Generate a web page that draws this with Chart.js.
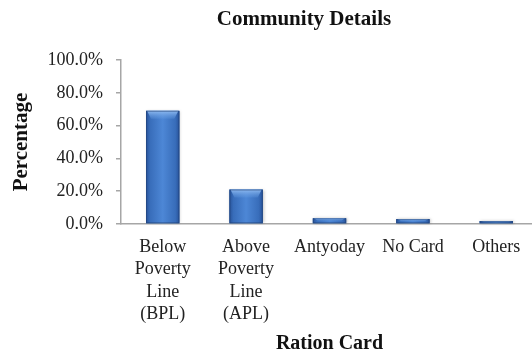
<!DOCTYPE html>
<html lang="en">
<head>
    <meta charset="UTF-8">
    <title>Community Details</title>
    <script src="https://cdn.jsdelivr.net/npm/chart.js"></script>
    <style>
        html, body {
            margin: 0;
            padding: 0;
            overflow: hidden;
            background: #fff;
        }
        .wrap {
            position: relative;
            width: 532px;
            height: 358px;
        }
        .chart-title {
            position: absolute;
            top: 6px;
            left: 76px;
            width: 456px;
            text-align: center;
            font: bold 21px "Liberation Serif", "Times New Roman", serif;
            color: #111;
        }
        canvas {
            position: absolute;
            left: 0;
            top: 0;
        }
    </style>
</head>
<body>
<div class="wrap">
    <canvas id="rationChart" width="538" height="358"></canvas>
    <div class="chart-title">Community Details</div>
</div>

<script>
    // Ration card type vs share of households (%)
    const cardTypes = [
        ['Below', 'Poverty', 'Line', '(BPL)'],
        ['Above', 'Poverty', 'Line', '(APL)'],
        'Antyoday',
        'No Card',
        'Others'
    ];
    const shares = [69.0, 21.0, 3.5, 3.0, 1.8];
    const yTicks = [0, 20, 40, 60, 80, 100];

    const serif = '"Liberation Serif", "Times New Roman", serif';
    const axisGray = '#a6a6a6';

    // paints the bevelled, cylinder-like shading over each bar
    const barShade = {
        id: 'barShade',
        afterDatasetsDraw(chart) {
            const ctx = chart.ctx;
            chart.getDatasetMeta(0).data.forEach(bar => {
                const {x, y, base, width} = bar.getProps(['x', 'y', 'base', 'width'], true);
                const l = x - width / 2, r = x + width / 2, h = base - y;
                if (h <= 0) return;

                ctx.save();
                // soft shadow behind the bar
                ctx.shadowColor = 'rgba(0,0,0,0.25)';
                ctx.shadowBlur = 3;
                ctx.shadowOffsetX = 1;
                const g = ctx.createLinearGradient(l, 0, r, 0);
                g.addColorStop(0, '#28539a');
                g.addColorStop(0.12, '#386dba');
                g.addColorStop(0.5, '#4d87d6');
                g.addColorStop(0.88, '#386dba');
                g.addColorStop(1, '#28539a');
                ctx.fillStyle = g;
                ctx.fillRect(l, y, width, h);
                ctx.restore();

                // lighter bevel on the top face
                const bh = Math.min(8, h / 2);
                const inset = Math.min(5, width / 5);
                ctx.save();
                const tg = ctx.createLinearGradient(0, y, 0, y + bh);
                tg.addColorStop(0, '#8fbaf0');
                tg.addColorStop(1, 'rgba(100,155,225,0.25)');
                ctx.fillStyle = tg;
                ctx.beginPath();
                ctx.moveTo(l + 1, y);
                ctx.lineTo(r - 1, y);
                ctx.lineTo(r - inset, y + bh);
                ctx.lineTo(l + inset, y + bh);
                ctx.closePath();
                ctx.fill();

                ctx.strokeStyle = 'rgba(30,60,110,0.5)';
                ctx.lineWidth = 1;
                ctx.strokeRect(l + 0.5, y + 0.5, width - 1, h - 1);
                ctx.restore();
            });
        }
    };

    const config = {
        type: 'bar',
        data: {
            labels: cardTypes,
            datasets: [{
                label: 'Percentage',
                data: shares,
                backgroundColor: '#3f77c4',
                borderWidth: 0,
                barPercentage: 0.4,
                categoryPercentage: 1.0
            }]
        },
        options: {
            responsive: false,
            animation: false,
            layout: {
                padding: {top: 60, right: 0, bottom: 0, left: 0}
            },
            plugins: {
                legend: {display: false},
                title: {display: false},
                tooltip: {enabled: false}
            },
            scales: {
                x: {
                    grid: {display: false, drawTicks: false},
                    border: {display: true, color: axisGray, width: 1.5},
                    ticks: {
                        color: '#222',
                        padding: 12,
                        maxRotation: 0,
                        autoSkip: false,
                        font: {family: serif, size: 18, lineHeight: 1.25}
                    },
                    title: {
                        display: true,
                        text: 'Ration Card',
                        color: '#111',
                        padding: {top: 0, bottom: 2},
                        font: {family: serif, size: 20, weight: 'bold', lineHeight: 1.2}
                    },
                    afterFit(scale) { scale.height = 134; }
                },
                y: {
                    min: 0,
                    max: 100,
                    afterBuildTicks(scale) {
                        scale.ticks = yTicks.map(v => ({value: v}));
                    },
                    grid: {
                        drawOnChartArea: false,
                        drawTicks: true,
                        tickLength: 5,
                        color: axisGray,
                        lineWidth: 1.5
                    },
                    border: {display: true, color: axisGray, width: 1.5},
                    ticks: {
                        color: '#222',
                        padding: 13,
                        font: {family: serif, size: 18},
                        callback: v => v.toFixed(1) + '%'
                    },
                    title: {
                        display: true,
                        text: 'Percentage',
                        color: '#111',
                        padding: {top: 9, bottom: 0},
                        font: {family: serif, size: 21, weight: 'bold', lineHeight: 1.2}
                    },
                    afterFit(scale) { scale.width = 121; }
                }
            }
        },
        plugins: [barShade]
    };

    const ctx = document.getElementById('rationChart').getContext('2d');
    new Chart(ctx, config);
</script>
</body>
</html>
